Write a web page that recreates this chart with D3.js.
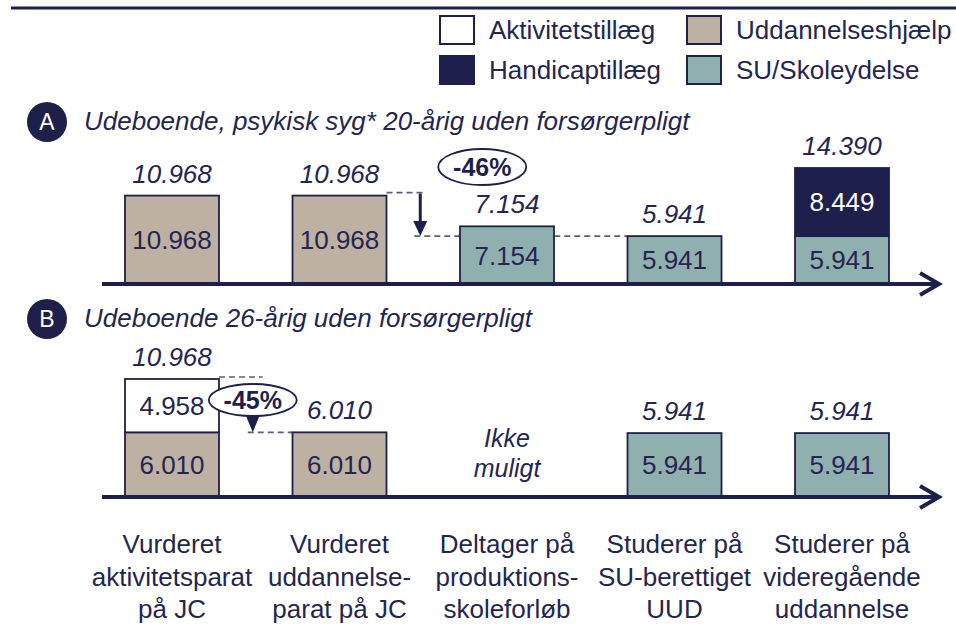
<!DOCTYPE html>
<html lang="da">
<head>
<meta charset="UTF-8">
<title>Ydelser</title>
<script src="https://d3js.org/d3.v7.min.js"></script>
<style>
  body { margin: 0; background: #fff; }
  svg { font-family: "Liberation Sans", Arial, sans-serif; }
</style>
</head>
<body>
<div id="chart"></div>
<script>
// categories (x axis labels, one array per line)
const categories = [
  ["Vurderet", "aktivitetsparat", "på JC"],
  ["Vurderet", "uddannelse-", "parat på JC"],
  ["Deltager på", "produktions-", "skoleforløb"],
  ["Studerer på", "SU-berettiget", "UUD"],
  ["Studerer på", "videregående", "uddannelse"]
];

const seriesKeys = ["Uddannelseshjælp", "SU/Skoleydelse", "Aktivitetstillæg", "Handicaptillæg"];
const legendOrder = ["Aktivitetstillæg", "Uddannelseshjælp", "Handicaptillæg", "SU/Skoleydelse"];

// Panel A: udeboende, psykisk syg 20-årig
const udd_A  = [10968, 10968, 0, 0, 0];
const su_A   = [0, 0, 7154, 5941, 5941];
const akt_A  = [0, 0, 0, 0, 0];
const hand_A = [0, 0, 0, 0, 8449];
const possible_A = [true, true, true, true, true];

// Panel B: udeboende 26-årig
const udd_B  = [6010, 6010, 0, 0, 0];
const su_B   = [0, 0, 0, 5941, 5941];
const akt_B  = [4958, 0, 0, 0, 0];
const hand_B = [0, 0, 0, 0, 0];
const possible_B = [true, true, false, true, true];

const colors = {
  "Uddannelseshjælp": "#bdb1a3",
  "SU/Skoleydelse": "#90b0b0",
  "Aktivitetstillæg": "#ffffff",
  "Handicaptillæg": "#1f1f4b"
};
const navy = "#1f1f4b";
const textCol = "#25254f";
const fs = 26;

const W = 956, H = 632;
const svg = d3.select("#chart").append("svg")
  .attr("width", W).attr("height", H);

// top rule
svg.append("line")
  .attr("x1", 11).attr("x2", W).attr("y1", 8).attr("y2", 8)
  .attr("stroke", navy).attr("stroke-width", 3);

// legend
const legend = svg.append("g");
legendOrder.forEach((k, i) => {
  const col = i % 2, row = Math.floor(i / 2);
  const lx = 440 + col * 247, ly = 16 + row * 40;
  legend.append("rect")
    .attr("x", lx).attr("y", ly).attr("width", 34).attr("height", 28)
    .attr("fill", colors[k]).attr("stroke", navy).attr("stroke-width", 2);
  legend.append("text")
    .attr("x", lx + 49).attr("y", ly + 14).attr("dy", "0.35em")
    .attr("font-size", fs).attr("fill", textCol)
    .text(k);
});

// x positions
const x = d3.scalePoint().domain(d3.range(categories.length)).range([172, 842]);
const bw = 94;
const fmt = v => d3.format(",")(v).replace(",", ".");

function buildRows(udd, su, akt, hand) {
  return categories.map((c, i) => ({
    "Uddannelseshjælp": udd[i], "SU/Skoleydelse": su[i],
    "Aktivitetstillæg": akt[i], "Handicaptillæg": hand[i], idx: i
  }));
}

function drawPanel(opt) {
  const g = svg.append("g");
  const y = opt.y;
  const base = y(0);

  // badge + title
  g.append("circle").attr("cx", 47).attr("cy", opt.titleY - 8).attr("r", 20).attr("fill", navy);
  g.append("text").attr("x", 47).attr("y", opt.titleY - 8).attr("dy", "0.35em")
    .attr("text-anchor", "middle").attr("font-size", 23).attr("fill", "#fff").text(opt.letter);
  g.append("text").attr("x", 84).attr("y", opt.titleY)
    .attr("font-size", fs).attr("font-style", "italic").attr("fill", textCol).text(opt.title);

  // dashed reference lines (under bars)
  opt.dashes.forEach(d => {
    g.append("line").attr("x1", d[0]).attr("x2", d[1]).attr("y1", d[2]).attr("y2", d[2])
      .attr("stroke", "#5c5c80").attr("stroke-width", 1.6).attr("stroke-dasharray", "6,4");
  });

  const rows = buildRows(...opt.values);
  const stacked = d3.stack().keys(seriesKeys)(rows);

  stacked.forEach(layer => {
    layer.forEach((d, i) => {
      if (d[1] - d[0] <= 0) return;
      g.append("rect")
        .attr("x", x(i) - bw / 2).attr("width", bw)
        .attr("y", y(d[1])).attr("height", y(d[0]) - y(d[1]))
        .attr("fill", colors[layer.key]).attr("stroke", navy).attr("stroke-width", 1.8);
      g.append("text")
        .attr("x", x(i)).attr("y", (y(d[0]) + y(d[1])) / 2).attr("dy", "0.36em")
        .attr("text-anchor", "middle").attr("font-size", fs)
        .attr("fill", layer.key === "Handicaptillæg" ? "#fff" : textCol)
        .text(fmt(d[1] - d[0]));
    });
  });

  // totals
  rows.forEach((r, i) => {
    const tot = d3.sum(seriesKeys, k => r[k]);
    if (!opt.possible[i]) {
      g.append("text").attr("x", x(i)).attr("y", base - 50)
        .attr("text-anchor", "middle").attr("font-size", 25).attr("font-style", "italic")
        .attr("fill", textCol).text("Ikke");
      g.append("text").attr("x", x(i)).attr("y", base - 20)
        .attr("text-anchor", "middle").attr("font-size", 25).attr("font-style", "italic")
        .attr("fill", textCol).text("muligt");
      return;
    }
    g.append("text").attr("x", x(i)).attr("y", y(tot) - 13)
      .attr("text-anchor", "middle").attr("font-size", fs).attr("font-style", "italic")
      .attr("fill", textCol).text(fmt(tot));
  });

  // axis with open arrow head
  g.append("line").attr("x1", 102).attr("x2", 938).attr("y1", base).attr("y2", base)
    .attr("stroke", navy).attr("stroke-width", 4);
  g.append("path").attr("d", `M920,${base - 11}L939,${base}L920,${base + 11}`)
    .attr("fill", "none").attr("stroke", navy).attr("stroke-width", 4);

  return g;
}

// Panel A
const yA = d3.scaleLinear().domain([0, 14390]).range([284, 168]);
const totA = i => udd_A[i] + su_A[i] + akt_A[i] + hand_A[i];
const arrowXA = (x(1) + x(2)) / 2 - 3;
const gA = drawPanel({
  letter: "A", titleY: 130,
  title: "Udeboende, psykisk syg* 20-årig uden forsørgerpligt",
  y: yA, values: [udd_A, su_A, akt_A, hand_A], possible: possible_A,
  dashes: [
    [x(1) + bw / 2, arrowXA + 6, yA(totA(1)) - 3],
    [arrowXA - 6, x(3) - bw / 2, yA(totA(3))]
  ]
});
// down arrow A
gA.append("line").attr("x1", arrowXA).attr("x2", arrowXA)
  .attr("y1", yA(totA(1)) - 2).attr("y2", yA(totA(3)) - 12)
  .attr("stroke", navy).attr("stroke-width", 3);
gA.append("path")
  .attr("d", `M${arrowXA - 7},${yA(totA(3)) - 15}L${arrowXA + 7},${yA(totA(3)) - 15}L${arrowXA},${yA(totA(3))}Z`)
  .attr("fill", navy);
const pctA = Math.round((totA(3) / totA(1) - 1) * 100);
gA.append("ellipse").attr("cx", arrowXA + 62).attr("cy", 167).attr("rx", 44).attr("ry", 18)
  .attr("fill", "#fff").attr("stroke", navy).attr("stroke-width", 1.8);
gA.append("text").attr("x", arrowXA + 62).attr("y", 167).attr("dy", "0.36em")
  .attr("text-anchor", "middle").attr("font-size", 25).attr("font-weight", "bold")
  .attr("fill", navy).text(pctA + "%");

// Panel B
const yB = d3.scaleLinear().domain([0, 10968]).range([497, 379]);
const totB = i => udd_B[i] + su_B[i] + akt_B[i] + hand_B[i];
const arrowXB = (x(0) + x(1)) / 2 - 3;
const gB = drawPanel({
  letter: "B", titleY: 327,
  title: "Udeboende 26-årig uden forsørgerpligt",
  y: yB, values: [udd_B, su_B, akt_B, hand_B], possible: possible_B,
  dashes: [
    [x(0) + bw / 2, arrowXB + 10, yB(totB(0)) - 2],
    [arrowXB - 5, x(1) - bw / 2, yB(totB(1))]
  ]
});
const pctB = Math.round((totB(1) / totB(0) - 1) * 100);
const tipB = yB(totB(1));
gB.append("path")
  .attr("d", `M${arrowXB - 7},${tipB - 17}L${arrowXB + 7},${tipB - 17}L${arrowXB},${tipB}Z`)
  .attr("fill", navy);
gB.append("ellipse").attr("cx", arrowXB).attr("cy", 400).attr("rx", 44).attr("ry", 16)
  .attr("fill", "#fff").attr("stroke", navy).attr("stroke-width", 1.8);
gB.append("text").attr("x", arrowXB).attr("y", 400).attr("dy", "0.36em")
  .attr("text-anchor", "middle").attr("font-size", 25).attr("font-weight", "bold")
  .attr("fill", navy).text(pctB + "%");

// category labels
const catG = svg.append("g");
categories.forEach((lines, i) => {
  lines.forEach((l, j) => {
    catG.append("text").attr("x", x(i)).attr("y", 553 + j * 32.5)
      .attr("text-anchor", "middle").attr("font-size", fs).attr("fill", textCol).text(l);
  });
});
</script>
</body>
</html>
